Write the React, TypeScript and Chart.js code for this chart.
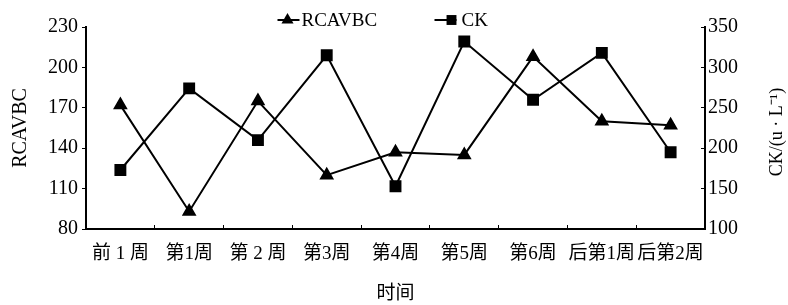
import React, { useEffect, useRef } from 'react';
import { Chart, registerables } from 'chart.js';

Chart.register(...registerables);

const weeks = ['前 1 周', '第1周', '第 2 周', '第3周', '第4周', '第5周', '第6周', '后第1周', '后第2周'];
const rcavbcValues = [172, 93, 175, 120, 137, 135, 208, 160, 157];
const ckValues = [173, 274, 210, 315, 153, 332, 260, 318, 195];
const leftTicks = [80, 110, 140, 170, 200, 230];
const rightTicks = [100, 150, 200, 250, 300, 350];
const seriesNames = ['RCAVBC', 'CK'];
const leftTitle = 'RCAVBC';
const rightTitle = 'CK/(u · L⁻¹)';
const xTitle = '时间';

const SERIF = '"Liberation Serif", "Times New Roman", serif';
const MIXED = '"Liberation Serif", "Noto Sans CJK SC", serif';

const W = 780;
const H = 297;

function drawMarker(ctx: CanvasRenderingContext2D, style: string, x: number, y: number, r: number) {
  ctx.beginPath();
  if (style === 'triangle') {
    ctx.moveTo(x, y - r);
    ctx.lineTo(x + r * 0.866, y + r * 0.5);
    ctx.lineTo(x - r * 0.866, y + r * 0.5);
    ctx.closePath();
    ctx.fill();
  } else {
    const s = r * Math.SQRT1_2;
    ctx.fillRect(x - s, y - s, 2 * s, 2 * s);
  }
}

const overlayPlugin = {
  id: 'overlay',
  afterDraw(chart: any) {
    const ctx: CanvasRenderingContext2D = chart.ctx;
    const ca = chart.chartArea;
    const cx = (ca.left + ca.right) / 2;
    ctx.save();
    ctx.fillStyle = '#000';
    ctx.strokeStyle = '#000';

    // legend
    const items = [
      { name: seriesNames[0], style: 'triangle', x0: cx - 118, x1: cx - 96, mx: cx - 108, tx: cx - 94 },
      { name: seriesNames[1], style: 'rect', x0: cx + 39, x1: cx + 61, mx: cx + 56, tx: cx + 66 },
    ];
    const ly = 12;
    ctx.font = '19px ' + SERIF;
    ctx.textBaseline = 'middle';
    ctx.textAlign = 'left';
    items.forEach((it) => {
      ctx.lineWidth = 2;
      ctx.beginPath();
      ctx.moveTo(it.x0, ly);
      ctx.lineTo(it.x1, ly);
      ctx.stroke();
      drawMarker(ctx, it.style, it.mx, ly, 7);
      ctx.fillText(it.name, it.tx, ly + 1);
    });

    // right axis title, reading bottom to top
    const ry = chart.scales.yRight;
    ctx.translate(ry.right - 11, (ca.top + ca.bottom) / 2 + 4);
    ctx.rotate(-Math.PI / 2);
    ctx.font = '18px ' + SERIF;
    ctx.textAlign = 'center';
    ctx.textBaseline = 'middle';
    ctx.fillText(rightTitle, 0, 0);
    ctx.restore();
  },
};

export default function App() {
  const ref = useRef<HTMLCanvasElement | null>(null);

  useEffect(() => {
    if (!ref.current) return;
    const chart = new Chart(ref.current, {
      type: 'line',
      data: {
        labels: weeks,
        datasets: [
          {
            label: seriesNames[0],
            data: rcavbcValues,
            yAxisID: 'yLeft',
            borderColor: '#000',
            backgroundColor: '#000',
            pointBackgroundColor: '#000',
            pointBorderColor: '#000',
            borderWidth: 2,
            pointStyle: 'triangle',
            pointRadius: 6.5,
            tension: 0,
          },
          {
            label: seriesNames[1],
            data: ckValues,
            yAxisID: 'yRight',
            borderColor: '#000',
            backgroundColor: '#000',
            pointBackgroundColor: '#000',
            pointBorderColor: '#000',
            borderWidth: 2,
            pointStyle: 'rect',
            pointRadius: 7,
            tension: 0,
          },
        ],
      },
      options: {
        responsive: false,
        animation: false,
        layout: { padding: { top: 19, left: 0, right: 0, bottom: 0 } },
        plugins: {
          legend: { display: false },
          tooltip: { enabled: false },
        },
        scales: {
          x: {
            type: 'category',
            offset: true,
            grid: {
              display: true,
              drawOnChartArea: false,
              drawTicks: true,
              tickLength: -4,
              color: '#000',
              lineWidth: 1,
              offset: true,
            },
            border: { display: true, color: '#000', width: 2 },
            ticks: {
              color: '#000',
              font: { family: MIXED, size: 19 },
              padding: 18,
              maxRotation: 0,
              autoSkip: false,
            },
            title: {
              display: true,
              text: xTitle,
              color: '#000',
              font: { family: MIXED, size: 19, lineHeight: 1.2 },
              padding: { top: 0, bottom: 0 },
            },
            afterFit: (s: any) => {
              s.height = 76;
            },
          },
          yLeft: {
            type: 'linear',
            position: 'left',
            min: 80,
            max: 230,
            afterBuildTicks: (s: any) => {
              s.ticks = leftTicks.map((v) => ({ value: v }));
            },
            grid: {
              display: true,
              drawOnChartArea: false,
              tickLength: 4,
              color: '#000',
              lineWidth: 1,
            },
            border: { display: true, color: '#000', width: 2 },
            ticks: {
              color: '#000',
              font: { family: SERIF, size: 20 },
              padding: 4,
            },
            title: {
              display: true,
              text: leftTitle,
              color: '#000',
              font: { family: SERIF, size: 20, lineHeight: 1.2 },
              padding: { top: 1, bottom: 0 },
            },
            afterFit: (s: any) => {
              s.width = 78;
            },
          },
          yRight: {
            type: 'linear',
            position: 'right',
            min: 100,
            max: 350,
            afterBuildTicks: (s: any) => {
              s.ticks = rightTicks.map((v) => ({ value: v }));
            },
            grid: {
              display: true,
              drawOnChartArea: false,
              tickLength: -4,
              color: '#000',
              lineWidth: 1,
            },
            border: { display: true, color: '#000', width: 2 },
            ticks: {
              color: '#000',
              font: { family: SERIF, size: 20 },
              padding: 7,
            },
            afterFit: (s: any) => {
              s.width = W - 697;
            },
          },
        },
      },
      plugins: [overlayPlugin],
    } as any);
    return () => chart.destroy();
  }, []);

  return (
    <div style={{ position: 'fixed', left: 8, top: 8, width: W, height: H }}>
      <canvas ref={ref} width={W} height={H} style={{ width: W, height: H, display: 'block' }} />
    </div>
  );
}
